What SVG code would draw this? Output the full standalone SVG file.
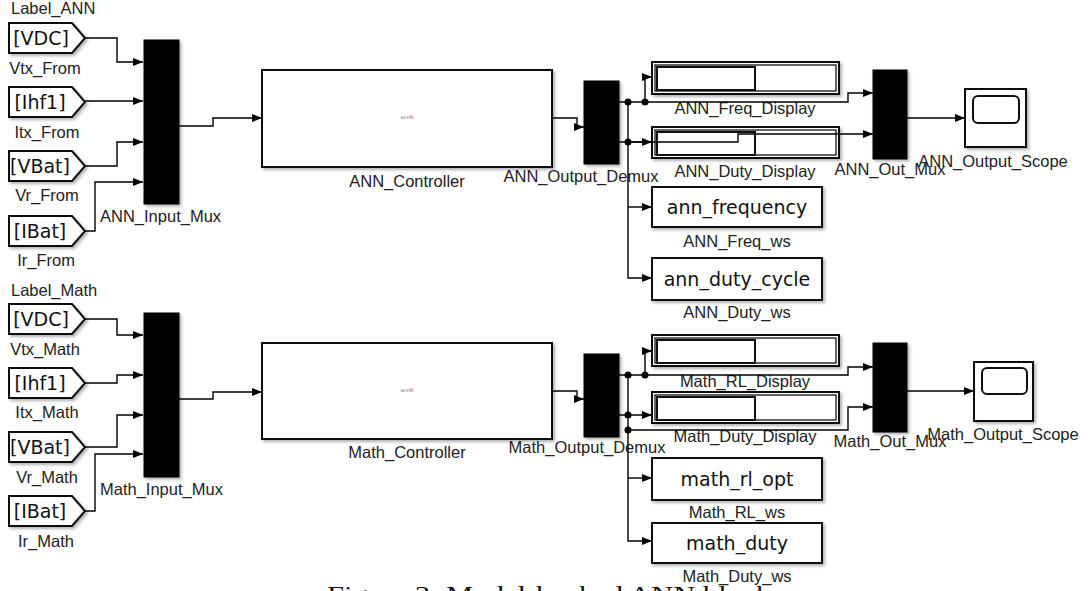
<svg xmlns="http://www.w3.org/2000/svg" width="1088" height="591" viewBox="0 0 1088 591">
<style>
.lbl{font-family:"Liberation Sans",Arial,sans-serif;font-size:16.5px;fill:#222;text-anchor:middle}
.st{text-anchor:start}
.btx{font-family:"DejaVu Sans",sans-serif;font-size:19px;fill:#111;text-anchor:middle}
.blk{fill:#fff;stroke:#111;stroke-width:2;filter:url(#sh)}
.mux{fill:#000;stroke:#000;stroke-width:1;filter:url(#sh)}
.thin{fill:none;stroke:#111;stroke-width:1.3}
.in{fill:#fff;stroke:#111;stroke-width:2}
.w{fill:none;stroke:#000;stroke-width:1.4;marker-end:url(#ah)}
.wn{fill:none;stroke:#000;stroke-width:1.4}
.dot{fill:#000}
.tiny{font-family:"DejaVu Sans",sans-serif;font-size:5px;fill:#777;text-anchor:middle}
.cap{font-family:"Liberation Serif","Times New Roman",serif;font-size:24px;fill:#111}
</style>
<defs>
<filter id="sh" x="-10%" y="-10%" width="130%" height="140%">
<feDropShadow dx="2" dy="2" stdDeviation="1.5" flood-color="#000" flood-opacity="0.3"/>
</filter>
<marker id="ah" viewBox="0 0 10 8" refX="10" refY="4" markerWidth="10" markerHeight="8" markerUnits="userSpaceOnUse" orient="auto">
<path d="M0,0 L10,4 L0,8 Z" fill="#000"/>
</marker>
</defs>
<rect width="1088" height="591" fill="#fff"/>

<!-- ANN section -->
<text class="lbl st" x="11" y="14">Label_ANN</text>
<g id="Vtx_From"><path class="blk" d="M9,23 H72 L85,38 L72,53 H9 Z"/><text class="btx" x="41" y="45">[VDC]</text><text class="lbl" x="45" y="74">Vtx_From</text></g>
<g id="Itx_From"><path class="blk" d="M9,87 H72 L85,102 L72,117 H9 Z"/><text class="btx" x="40" y="109">[Ihf1]</text><text class="lbl" x="47" y="138">Itx_From</text></g>
<g id="Vr_From"><path class="blk" d="M9,151 H72 L85,166 L72,181 H9 Z"/><text class="btx" x="40" y="173">[VBat]</text><text class="lbl" x="47" y="201">Vr_From</text></g>
<g id="Ir_From"><path class="blk" d="M9,216 H72 L85,231 L72,246 H9 Z"/><text class="btx" x="40" y="238">[IBat]</text><text class="lbl" x="46" y="266">Ir_From</text></g>
<g id="ANN_Input_Mux"><rect class="mux" x="144" y="40" width="35" height="164"/><text class="lbl st" x="100" y="222">ANN_Input_Mux</text></g>
<g id="ANN_Controller"><rect class="blk" x="262" y="70" width="290" height="97"/><text class="tiny" x="407" y="119">annN</text><text class="lbl" x="407" y="187">ANN_Controller</text></g>
<g id="ANN_Output_Demux"><rect class="mux" x="584" y="81" width="35" height="83"/><text class="lbl" x="581" y="182">ANN_Output_Demux</text></g>
<g id="ANN_Freq_Display"><rect class="blk" x="652" y="62" width="187" height="32"/><rect class="thin" x="655" y="65" width="181" height="26"/><rect class="in" x="657" y="67" width="98" height="23"/><text class="lbl" x="745" y="114">ANN_Freq_Display</text></g>
<g id="ANN_Duty_Display"><rect class="blk" x="652" y="127" width="187" height="31"/><rect class="thin" x="655" y="130" width="181" height="25"/><rect class="in" x="657" y="132" width="98" height="23"/><text class="lbl" x="745" y="177">ANN_Duty_Display</text></g>
<g id="ANN_Freq_ws"><rect class="blk" x="652" y="187" width="170" height="40"/><text class="btx" x="737" y="214">ann_frequency</text><text class="lbl" x="737" y="247">ANN_Freq_ws</text></g>
<g id="ANN_Duty_ws"><rect class="blk" x="652" y="258" width="170" height="42"/><text class="btx" x="737" y="286">ann_duty_cycle</text><text class="lbl" x="737" y="318">ANN_Duty_ws</text></g>
<g id="ANN_Out_Mux"><rect class="mux" x="873" y="70" width="34" height="89"/><text class="lbl" x="890" y="175">ANN_Out_Mux</text></g>
<g id="ANN_Output_Scope"><rect class="blk" x="965" y="89" width="61" height="58"/><rect class="in" x="973" y="96" width="46" height="27" rx="5"/><text class="lbl" x="993" y="167">ANN_Output_Scope</text></g>

<!-- Math section -->
<text class="lbl st" x="11" y="296">Label_Math</text>
<g id="Vtx_Math"><path class="blk" d="M9,304 H72 L85,319 L72,334 H9 Z"/><text class="btx" x="41" y="326">[VDC]</text><text class="lbl" x="45" y="355">Vtx_Math</text></g>
<g id="Itx_Math"><path class="blk" d="M9,368 H72 L85,383 L72,398 H9 Z"/><text class="btx" x="40" y="390">[Ihf1]</text><text class="lbl" x="47" y="418">Itx_Math</text></g>
<g id="Vr_Math"><path class="blk" d="M9,432 H72 L85,447 L72,462 H9 Z"/><text class="btx" x="40" y="454">[VBat]</text><text class="lbl" x="47" y="483">Vr_Math</text></g>
<g id="Ir_Math"><path class="blk" d="M9,496 H72 L85,511 L72,526 H9 Z"/><text class="btx" x="40" y="518">[IBat]</text><text class="lbl" x="46" y="547">Ir_Math</text></g>
<g id="Math_Input_Mux"><rect class="mux" x="144" y="313" width="35" height="164"/><text class="lbl st" x="100" y="495">Math_Input_Mux</text></g>
<g id="Math_Controller"><rect class="blk" x="262" y="343" width="290" height="96"/><text class="tiny" x="407" y="392">annN</text><text class="lbl" x="407" y="458">Math_Controller</text></g>
<g id="Math_Output_Demux"><rect class="mux" x="584" y="354" width="35" height="83"/><text class="lbl" x="587" y="453">Math_Output_Demux</text></g>
<g id="Math_RL_Display"><rect class="blk" x="652" y="335" width="187" height="31"/><rect class="thin" x="655" y="338" width="181" height="25"/><rect class="in" x="657" y="340" width="98" height="23"/><text class="lbl" x="745" y="387">Math_RL_Display</text></g>
<g id="Math_Duty_Display"><rect class="blk" x="652" y="392" width="187" height="31"/><rect class="thin" x="655" y="395" width="181" height="25"/><rect class="in" x="657" y="397" width="98" height="23"/><text class="lbl" x="745" y="442">Math_Duty_Display</text></g>
<g id="Math_RL_ws"><rect class="blk" x="652" y="458" width="170" height="42"/><text class="btx" x="737" y="486">math_rl_opt</text><text class="lbl" x="737" y="518">Math_RL_ws</text></g>
<g id="Math_Duty_ws"><rect class="blk" x="652" y="523" width="170" height="40"/><text class="btx" x="737" y="550">math_duty</text><text class="lbl" x="737" y="582">Math_Duty_ws</text></g>
<g id="Math_Out_Mux"><rect class="mux" x="873" y="343" width="34" height="89"/><text class="lbl" x="890" y="447">Math_Out_Mux</text></g>
<g id="Math_Output_Scope"><rect class="blk" x="974" y="362" width="59" height="59"/><rect class="in" x="982" y="368" width="45" height="26" rx="5"/><text class="lbl" x="1003" y="440">Math_Output_Scope</text></g>

<g id="connectors">
<path class="w" d="M85,38 H117 V62 H143"/>
<path class="w" d="M85,101 H143"/>
<path class="w" d="M85,166 H117 V142 H143"/>
<path class="w" d="M85,231 H95 V182 H143"/>
<path class="w" d="M179,126 H213 V118 H262"/>
<path class="w" d="M552,118 H577 V127 H584"/>
<path class="w" d="M619,102 H848 V93 H873"/>
<path class="w" d="M645,102 V77 H652"/>
<path class="w" d="M619,142 H652"/>
<path class="w" d="M628,142 H738 V134 H873"/>
<path class="w" d="M628,102 V278 H652"/>
<path class="w" d="M628,207 H652"/>
<path class="w" d="M907,118 H965"/>
<circle class="dot" cx="628" cy="102" r="3.5"/>
<circle class="dot" cx="645" cy="102" r="3.5"/>
<circle class="dot" cx="628" cy="142" r="3.5"/>

<path class="w" d="M85,319 H117 V335 H143"/>
<path class="w" d="M85,383 H117 V375 H143"/>
<path class="w" d="M85,447 H117 V415 H143"/>
<path class="w" d="M85,511 H95 V454 H143"/>
<path class="w" d="M179,399 H213 V392 H262"/>
<path class="w" d="M552,391 H577 V399 H584"/>
<path class="w" d="M619,375 H848 V367 H873"/>
<path class="w" d="M645,375 V351 H652"/>
<path class="w" d="M619,415 H652"/>
<path class="w" d="M628,430 H848 V407 H873"/>
<path class="w" d="M628,375 V541 H652"/>
<path class="w" d="M628,478 H652"/>
<path class="w" d="M907,391 H974"/>
<circle class="dot" cx="628" cy="375" r="3.5"/>
<circle class="dot" cx="645" cy="375" r="3.5"/>
<circle class="dot" cx="628" cy="415" r="3.5"/>
<circle class="dot" cx="628" cy="430" r="3.5"/>
</g>

<text class="cap" x="327" y="602" textLength="456" lengthAdjust="spacingAndGlyphs">Figure 3: Model-backed ANN blocks</text>
</svg>
